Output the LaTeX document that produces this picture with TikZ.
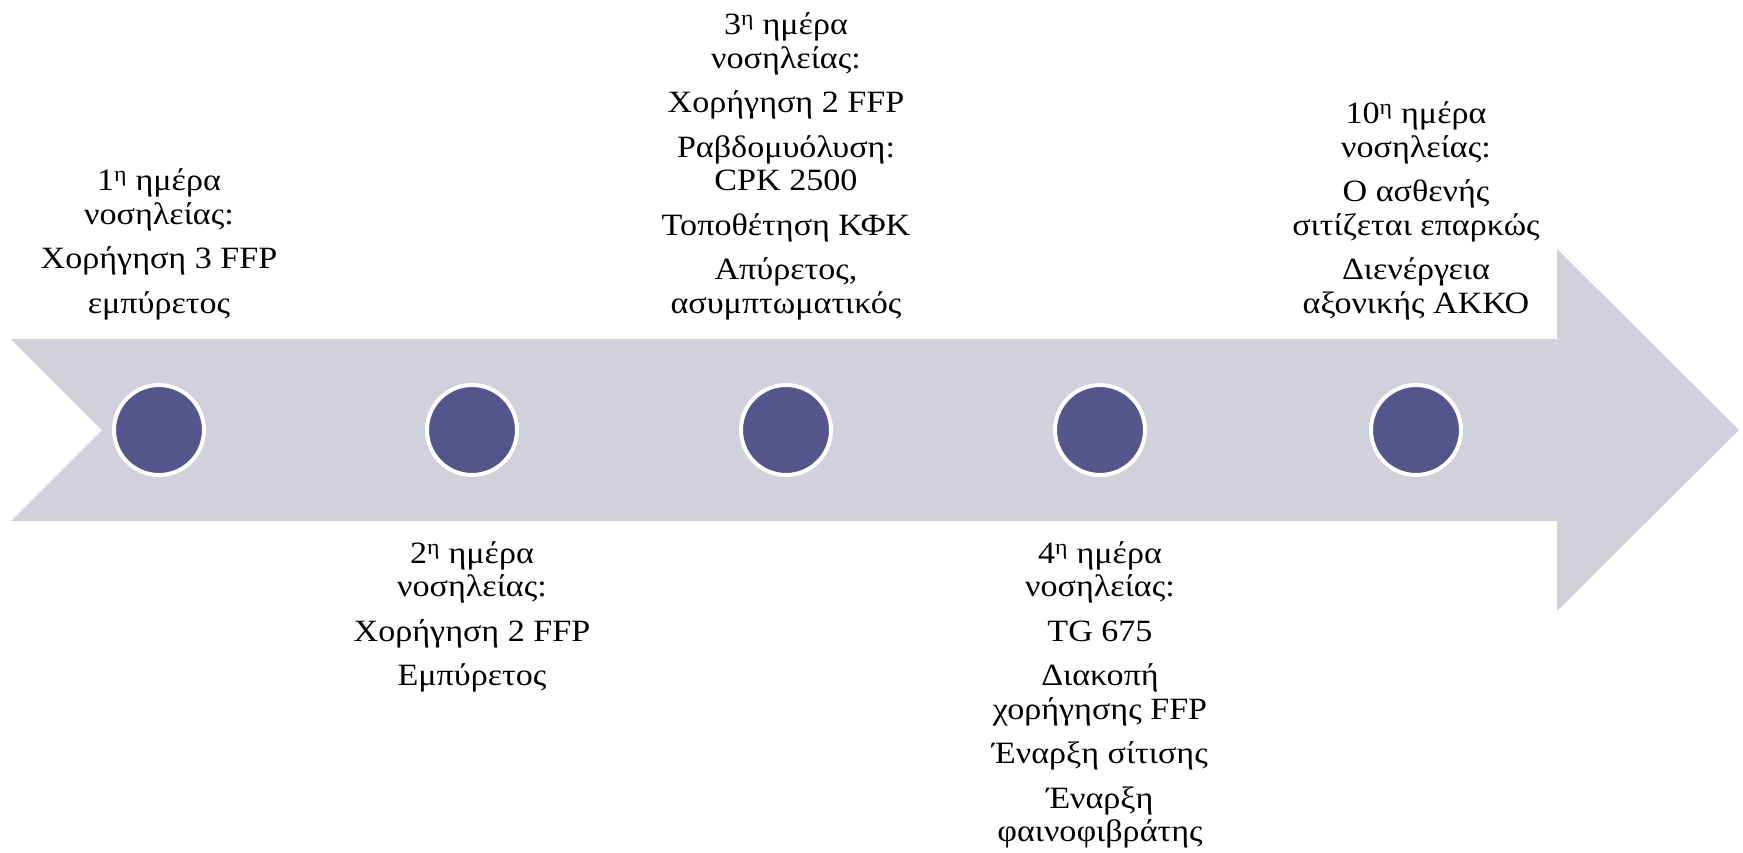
\documentclass[tikz,border=0pt]{standalone}
\usepackage{fontspec}
\setmainfont[FakeStretch=1.1]{Liberation Serif}
\definecolor{band}{RGB}{208,209,219}
\definecolor{dotc}{RGB}{84,85,138}
\tikzset{
  dot/.style={circle, fill=dotc, draw=white, line width=4pt, minimum size=90pt, inner sep=0pt},
  lbl/.style={align=center, inner sep=0pt, text=black, font=\fontsize{31}{33.5}\selectfont},
}
\newcommand{\pg}{\\[11pt]}
\begin{document}
\begin{tikzpicture}[x=1pt,y=-1pt]
\useasboundingbox (0,0) rectangle (1743,853);
\fill[band] (11,339) -- (1557,339) -- (1557,249) -- (1739,430) -- (1557,611) -- (1557,521) -- (11,521) -- (102,430) -- cycle;
\foreach \i/\x in {1/159,2/472,3/786,4/1100,5/1416}{
  \node[dot] (c\i) at (\x,430) {};
}
\node[lbl, anchor=south] (t1) at (159,320) {1\textsuperscript{η} ημέρα\\νοσηλείας:\pg Χορήγηση 3 FFP\pg εμπύρετος};
\node[lbl, anchor=north] (t2) at (472,541) {2\textsuperscript{η} ημέρα\\νοσηλείας:\pg Χορήγηση 2 FFP\pg Εμπύρετος};
\node[lbl, anchor=south] (t3) at (786,320) {3\textsuperscript{η} ημέρα\\νοσηλείας:\pg Χορήγηση 2 FFP\pg Ραβδομυόλυση:\\CPK 2500\pg Τοποθέτηση ΚΦΚ\pg Απύρετος,\\ασυμπτωματικός};
\node[lbl, anchor=north] (t4) at (1100,541) {4\textsuperscript{η} ημέρα\\νοσηλείας:\pg TG 675\pg Διακοπή\\χορήγησης FFP\pg Έναρξη σίτισης\pg Έναρξη\\φαινοφιβράτης};
\node[lbl, anchor=south] (t5) at (1416,320) {10\textsuperscript{η} ημέρα\\νοσηλείας:\pg Ο ασθενής\\σιτίζεται επαρκώς\pg Διενέργεια\\αξονικής ΑΚΚΟ};
\end{tikzpicture}
\end{document}
